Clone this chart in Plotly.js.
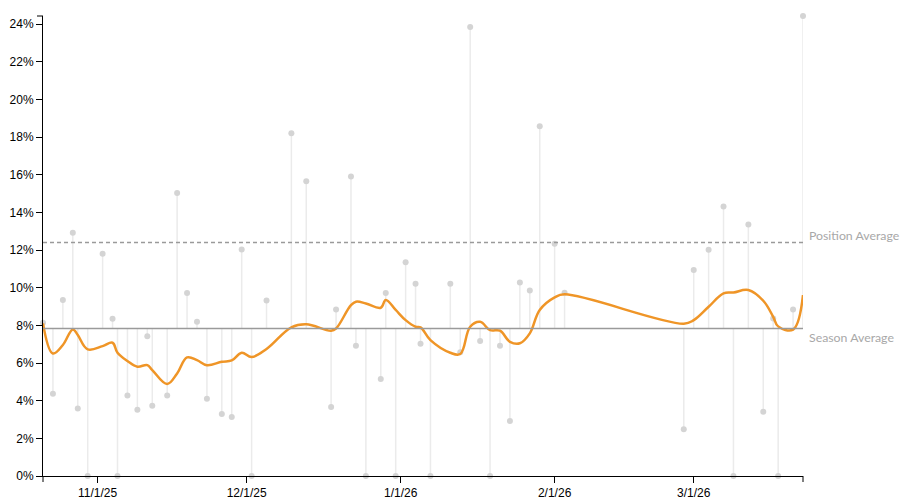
<!DOCTYPE html>
<html>
<head>
<meta charset="utf-8">
<script src="https://cdn.plot.ly/plotly-3.0.1.min.js"></script>
<style>
html,body{margin:0;padding:0;background:#fff;}
#chart{width:924px;height:501px;}
</style>
</head>
<body>
<div id="chart"></div>
<script>
// Game dates
const gameDates = [
  '2025-10-21','2025-10-23','2025-10-25','2025-10-27','2025-10-28','2025-10-30',
  '2025-11-02','2025-11-04','2025-11-05','2025-11-07','2025-11-09','2025-11-11',
  '2025-11-12','2025-11-15','2025-11-17','2025-11-19','2025-11-21','2025-11-23',
  '2025-11-26','2025-11-28','2025-11-30','2025-12-02','2025-12-05','2025-12-10',
  '2025-12-13','2025-12-18','2025-12-19','2025-12-22','2025-12-23','2025-12-25',
  '2025-12-28','2025-12-29','2025-12-31','2026-01-02','2026-01-04','2026-01-05',
  '2026-01-07','2026-01-11','2026-01-13','2026-01-15','2026-01-17','2026-01-19',
  '2026-01-21','2026-01-23','2026-01-25','2026-01-27','2026-01-29','2026-02-01',
  '2026-02-03','2026-02-27','2026-03-01','2026-03-04','2026-03-07','2026-03-09',
  '2026-03-12','2026-03-15','2026-03-17','2026-03-18','2026-03-21','2026-03-23'
];
// Per-game value (%)
const gameValues = [
  8.14, 4.37, 9.35, 12.92, 3.59, 0,
  11.81, 8.36, 0, 4.28, 3.52, 7.43,
  3.73, 4.28, 15.04, 9.72, 8.20, 4.10,
  3.29, 3.13, 12.04, 0, 9.33, 18.21,
  15.66, 3.66, 8.85, 15.91, 6.92, 0,
  5.15, 9.72, 0, 11.36, 10.21, 7.03,
  0, 10.21, 6.57, 23.86, 7.17, 0,
  6.92, 2.92, 10.28, 9.86, 18.58, 12.34,
  9.74, 2.48, 10.94, 12.02, 14.32, 0,
  13.36, 3.42, 8.37, 0, 8.85, 24.44
];
// Smoothed trend (%)
const trendValues = [
  8.11, 6.51, 6.96, 7.79, 7.49, 6.73,
  6.90, 7.08, 6.55, 6.11, 5.81, 5.89,
  5.63, 4.89, 5.45, 6.30, 6.16, 5.89,
  6.07, 6.14, 6.55, 6.32, 6.75, 7.90,
  8.06, 7.72, 7.84, 9.08, 9.26, 9.17,
  8.94, 9.35, 8.82, 8.28, 7.93, 7.90,
  7.22, 6.55, 6.48, 7.93, 8.19, 7.75,
  7.72, 7.13, 7.05, 7.58, 8.82, 9.49,
  9.65, 8.09, 8.28, 8.99, 9.70, 9.75,
  9.88, 9.31, 8.46, 7.95, 7.78, 9.61
];
const seasonAverage = 7.84;
const positionAverage = 12.41;
const seasonLabel = 'Season Average';
const positionLabel = 'Position Average';
const yTicks = [0,2,4,6,8,10,12,14,16,18,20,22,24];

// stems from season average to each value
const stemX = [], stemY = [];
gameDates.forEach((d,i) => {
  stemX.push(d, d, null);
  stemY.push(seasonAverage, gameValues[i], null);
});

const traces = [
  {
    x: stemX, y: stemY, type: 'scatter', mode: 'lines',
    line: {color: '#ebebeb', width: 1.5},
    hoverinfo: 'skip', cliponaxis: false, showlegend: false
  },
  {
    x: gameDates, y: gameValues, type: 'scatter', mode: 'markers',
    marker: {color: '#d4d4d4', size: 6},
    cliponaxis: false, showlegend: false
  },
  {
    x: gameDates, y: trendValues, type: 'scatter', mode: 'lines',
    line: {color: '#ef9527', width: 2.5, shape: 'spline', smoothing: 1.1},
    cliponaxis: false, showlegend: false
  }
];

const layout = {
  width: 924, height: 501,
  margin: {l: 43, r: 121, t: 16, b: 25},
  paper_bgcolor: '#fff', plot_bgcolor: '#fff',
  font: {family: 'Liberation Sans, Arial, sans-serif', size: 12, color: '#000'},
  xaxis: {
    type: 'date',
    range: [gameDates[0], gameDates[gameDates.length-1]],
    tick0: '2025-11-01', dtick: 'M1', tickformat: '%-m/%-d/%y',
    showgrid: false, zeroline: false,
    showline: true, linecolor: '#000', linewidth: 1,
    ticks: 'outside', ticklen: 6, tickcolor: '#000', tickwidth: 1,
    tickfont: {size: 12, color: '#000'}
  },
  yaxis: {
    range: [0, Math.max(...gameValues)],
    tickvals: yTicks, ticktext: yTicks.map(v => v + '%'),
    showgrid: false, zeroline: false,
    showline: true, linecolor: '#000', linewidth: 1,
    ticks: 'outside', ticklen: 6, tickcolor: '#000', tickwidth: 1,
    tickfont: {size: 12, color: '#000'}
  },
  shapes: [
    {type: 'line', xref: 'x domain', yref: 'y', x0: 0, x1: 1, y0: seasonAverage, y1: seasonAverage,
     line: {color: '#9a9a9a', width: 1.5}},
    {type: 'line', xref: 'x domain', yref: 'y', x0: 0, x1: 1, y0: positionAverage, y1: positionAverage,
     line: {color: '#9a9a9a', width: 1.5, dash: '4px,3px'}},
    // outer axis ticks
    {type: 'line', xref: 'x domain', yref: 'y domain', x0: 0, x1: 0, ysizemode: 'pixel', yanchor: 0, y0: 0, y1: -6,
     line: {color: '#000', width: 1}},
    {type: 'line', xref: 'x domain', yref: 'y domain', x0: 1, x1: 1, ysizemode: 'pixel', yanchor: 0, y0: 0, y1: -6,
     line: {color: '#000', width: 1}},
    {type: 'line', xref: 'x domain', yref: 'y domain', xsizemode: 'pixel', xanchor: 0, x0: -6, x1: 0, y0: 1, y1: 1,
     line: {color: '#000', width: 1}}
  ],
  annotations: [
    {xref: 'paper', yref: 'y', x: 1, y: positionAverage, xanchor: 'left', yanchor: 'bottom',
     xshift: 4, yshift: -3, showarrow: false, text: positionLabel,
     font: {family: 'Lato, sans-serif', size: 12.3, color: '#a8a8a8'}},
    {xref: 'paper', yref: 'y', x: 1, y: seasonAverage, xanchor: 'left', yanchor: 'top',
     xshift: 4, yshift: 0, showarrow: false, text: seasonLabel,
     font: {family: 'Lato, sans-serif', size: 12.3, color: '#a8a8a8'}}
  ],
  hovermode: false
};

Plotly.newPlot('chart', traces, layout, {displayModeBar: false, staticPlot: true});
</script>
</body>
</html>
